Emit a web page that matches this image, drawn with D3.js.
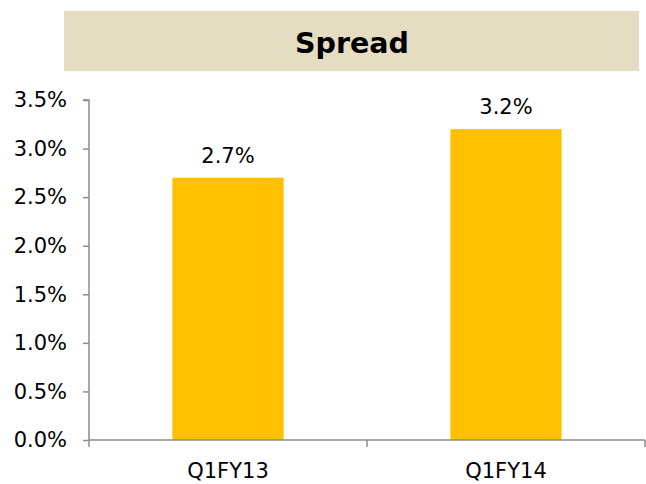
<!DOCTYPE html>
<html><head><meta charset="utf-8">
<script src="https://cdn.jsdelivr.net/npm/d3@7"></script>
<style>body{margin:0;background:#fff;}svg{display:block;}</style>
</head><body>
<script>
const categories = ["Q1FY13", "Q1FY14"];
const values = [2.7, 3.2];
const yTicks = [0, 0.5, 1.0, 1.5, 2.0, 2.5, 3.0, 3.5];
const title = "Spread";

const W = 646, H = 484;
const font = "'DejaVu Sans', sans-serif";
const fs = 21;
const svg = d3.select("body").append("svg").attr("width", W).attr("height", H);

// title box
svg.append("rect").attr("x", 64).attr("y", 11).attr("width", 575).attr("height", 60).attr("fill", "#E5DDC1");
svg.append("text").attr("x", 352).attr("y", 53).attr("text-anchor", "middle")
  .attr("font-family", font).attr("font-weight", "bold").attr("font-size", 28.5)
  .attr("fill", "#000").text(title);

const x0 = 89, x1 = 645, yTop = 100, yBot = 440;
const x = d3.scaleBand().domain(categories).range([x0, x1]).padding(0);
const y = d3.scaleLinear().domain([0, 3.5]).range([yBot, yTop]);

// bars
const bw = x.bandwidth() * 0.4;
svg.selectAll("rect.bar").data(values).enter().append("rect").attr("class", "bar")
  .attr("x", (d, i) => x(categories[i]) + (x.bandwidth() - bw) / 2)
  .attr("y", d => y(d)).attr("width", bw).attr("height", d => y(0) - y(d))
  .attr("fill", "#FFC000");

// value labels
svg.selectAll("text.val").data(values).enter().append("text").attr("class", "val")
  .attr("x", (d, i) => x(categories[i]) + x.bandwidth() / 2)
  .attr("y", d => y(d) - 15).attr("text-anchor", "middle")
  .attr("font-family", font).attr("font-size", fs).attr("fill", "#000")
  .text(d => d.toFixed(1) + "%");

// y axis
const yAxis = d3.axisLeft(y).tickValues(yTicks).tickSize(6).tickPadding(16)
  .tickFormat(d => d.toFixed(1) + "%");
const gy = svg.append("g").attr("transform", `translate(${x0},0)`).call(yAxis);
gy.select(".domain").attr("stroke", "#8c8c8c").attr("stroke-width", 1.5).attr("d", `M-6,${yTop}H0V${yBot}`);
gy.selectAll(".tick line").attr("stroke", "#8c8c8c").attr("stroke-width", 1.5);
gy.selectAll(".tick text").attr("font-family", font).attr("font-size", fs).attr("fill", "#000");

// x axis
const xAxis = d3.axisBottom(x).tickSize(0).tickPadding(23);
const gx = svg.append("g").attr("transform", `translate(0,${yBot})`).call(xAxis);
gx.select(".domain").attr("stroke", "#8c8c8c").attr("stroke-width", 1.5).attr("d", `M${x0},0H${x1}`);
gx.selectAll(".tick text").attr("font-family", font).attr("font-size", fs).attr("fill", "#000");
// boundary ticks
const bounds = [x0].concat(categories.map(c => x(c) + x.bandwidth()));
gx.selectAll("line.bt").data(bounds).enter().append("line").attr("class", "bt")
  .attr("x1", d => d).attr("x2", d => d).attr("y1", 0).attr("y2", 7)
  .attr("stroke", "#8c8c8c").attr("stroke-width", 1.5);
</script>
</body></html>
